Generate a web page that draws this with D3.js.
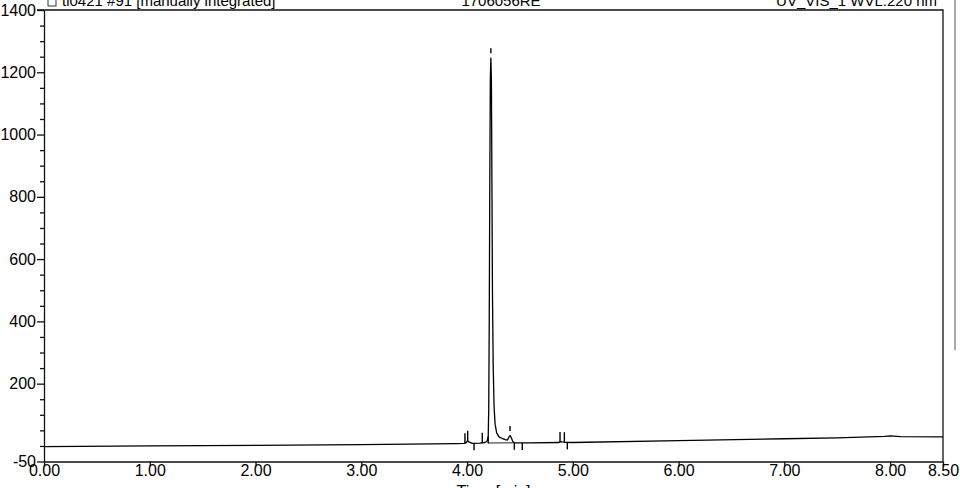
<!DOCTYPE html>
<html>
<head>
<meta charset="utf-8">
<script src="https://cdn.jsdelivr.net/npm/d3@7"></script>
<style>
  body { margin: 0; background: #fff; }
  svg { display: block; font-family: "Liberation Sans", Arial, sans-serif; }
</style>
</head>
<body>
<div id="wrapper"></div>
<script>
// chromatogram trace, time in min, signal in mAU
const times = [0.00, 1.00, 2.00, 3.00, 3.90, 3.97, 3.99, 4.005, 4.02, 4.05, 4.12, 4.17, 4.19,
  4.20, 4.205, 4.21, 4.215, 4.22, 4.225, 4.23, 4.235, 4.24, 4.247, 4.255, 4.265, 4.28, 4.30,
  4.33, 4.36, 4.38, 4.39, 4.40, 4.41, 4.42, 4.435, 4.45, 4.60, 4.87, 4.885, 4.90, 4.93,
  5.00, 6.00, 7.00, 7.50, 7.95, 8.00, 8.10, 8.50]
const signal = [-2.5, 0, 2, 4.5, 7.5, 8, 10, 17, 12, 8.5, 9, 11, 16,
  30, 120, 420, 850, 1180, 1245, 1180, 850, 500, 260, 130, 70, 42, 30,
  24, 20, 19, 24, 31, 33, 25, 13, 9.5, 10, 11, 14, 13, 11.5,
  11, 17, 23, 26, 31, 32.5, 30, 29]

// integration marks
const apexMarks = [4.225, 4.406]
const startMarks = [3.98, 4.006, 4.144, 4.879, 4.92]
const endMarks = [4.066, 4.20, 4.447, 4.522, 4.948]
const intBaseTimes = [4.20, 4.447]
const intBaseValues = [9.5, 10]

// axes
const xTicks = [0, 1, 2, 3, 4, 5, 6, 7, 8, 8.5]
const yTicks = [-50, 200, 400, 600, 800, 1000, 1200, 1400]
const yMinorTicks = [0, 50, 100, 150, 250, 300, 350, 450, 500, 550, 650, 700, 750,
  850, 900, 950, 1050, 1100, 1150, 1250, 1300, 1350]

const headerLeft = "ti0421 #91 [manually integrated]"
const headerMid = "1706056RE"
const headerRight = "UV_VIS_1 WVL:220 nm"
const xLabel = "Time [min]"

function drawChromatogram() {

  const data = times.map((t, i) => ({ t: t, v: signal[i] }))
  const xAccessor = d => d.t
  const yAccessor = d => d.v

  // 1. dimensions
  let dimensions = {
    width: 960,
    height: 488,
    margin: { top: 10, right: 17, bottom: 26.5, left: 44 },
  }
  dimensions.boundedWidth = dimensions.width - dimensions.margin.left - dimensions.margin.right
  dimensions.boundedHeight = dimensions.height - dimensions.margin.top - dimensions.margin.bottom

  // 2. canvas
  const wrapper = d3.select("#wrapper")
    .append("svg")
      .attr("width", dimensions.width)
      .attr("height", dimensions.height)

  const bounds = wrapper.append("g")
    .attr("transform", `translate(${dimensions.margin.left},${dimensions.margin.top})`)

  // 3. scales
  const xScale = d3.scaleLinear()
    .domain([0, 8.5])
    .range([0, dimensions.boundedWidth])

  const yScale = d3.scaleLinear()
    .domain([-50, 1400])
    .range([dimensions.boundedHeight, 0])

  const signalAt = t => {
    const i = d3.bisector(xAccessor).left(data, t)
    if (i <= 0) return data[0].v
    if (i >= data.length) return data[data.length - 1].v
    const a = data[i - 1], b = data[i]
    return a.v + (b.v - a.v) * (t - a.t) / (b.t - a.t)
  }

  // 4. frame (top + right)
  bounds.append("path")
    .attr("d", `M-7,0H${dimensions.boundedWidth}V${dimensions.boundedHeight}`)
    .attr("fill", "none")
    .attr("stroke", "#111")
    .attr("stroke-width", 1.3)

  // 5. trace
  const lineGenerator = d3.line()
    .x(d => xScale(xAccessor(d)))
    .y(d => yScale(yAccessor(d)))

  bounds.append("path")
    .datum(data)
    .attr("d", lineGenerator)
    .attr("fill", "none")
    .attr("stroke", "#000")
    .attr("stroke-width", 1.3)
    .attr("stroke-linejoin", "round")

  // integration baseline under the main peak
  bounds.append("path")
    .datum(intBaseTimes.map((t, i) => ({ t: t, v: intBaseValues[i] })))
    .attr("d", lineGenerator)
    .attr("fill", "none")
    .attr("stroke", "#222")
    .attr("stroke-width", 1)

  // marks
  const marks = bounds.append("g")
    .attr("stroke", "#000")
    .attr("stroke-width", 1.4)

  marks.selectAll(".apex")
    .data(apexMarks)
    .enter().append("line")
      .attr("x1", d => xScale(d))
      .attr("x2", d => xScale(d))
      .attr("y1", d => yScale(signalAt(d)) - 5)
      .attr("y2", d => yScale(signalAt(d)) - 10)

  marks.selectAll(".start")
    .data(startMarks)
    .enter().append("line")
      .attr("x1", d => xScale(d))
      .attr("x2", d => xScale(d))
      .attr("y1", d => yScale(signalAt(d)))
      .attr("y2", d => yScale(signalAt(d)) - 10)

  marks.selectAll(".end")
    .data(endMarks)
    .enter().append("line")
      .attr("x1", d => xScale(d))
      .attr("x2", d => xScale(d))
      .attr("y1", d => yScale(signalAt(d)))
      .attr("y2", d => yScale(signalAt(d)) + 7)

  // 6. axes
  const yAxisGenerator = d3.axisLeft(yScale)
    .tickValues(yTicks)
    .tickSize(7)
    .tickSizeOuter(0)
    .tickPadding(1)
    .tickFormat(d => d)

  const yAxis = bounds.append("g").call(yAxisGenerator)

  const yMinorGenerator = d3.axisLeft(yScale)
    .tickValues(yMinorTicks)
    .tickSize(4)
    .tickSizeOuter(0)
    .tickFormat("")

  bounds.append("g").call(yMinorGenerator)
    .select(".domain").remove()

  const xAxisGenerator = d3.axisBottom(xScale)
    .tickValues(xTicks)
    .tickSize(5)
    .tickSizeOuter(0)
    .tickPadding(-1.5)
    .tickFormat(d3.format(".2f"))

  const xAxis = bounds.append("g")
    .attr("transform", `translate(0,${dimensions.boundedHeight})`)
    .call(xAxisGenerator)

  bounds.selectAll(".domain, .tick line")
    .attr("stroke", "#111")
    .attr("stroke-width", 1.3)

  bounds.selectAll(".tick text")
    .attr("fill", "#000")
    .style("font-size", "16px")

  xAxis.append("text")
    .attr("x", dimensions.boundedWidth / 2)
    .attr("y", 35)
    .attr("fill", "#000")
    .style("font-size", "16px")
    .style("text-anchor", "middle")
    .text(xLabel)

  // 7. header (cut off at top edge)
  const header = wrapper.append("g")
    .style("font-size", "15px")
    .attr("fill", "#000")

  header.append("rect")
    .attr("x", 48).attr("y", -3)
    .attr("width", 8).attr("height", 9)
    .attr("fill", "none").attr("stroke", "#333").attr("stroke-width", 1)

  header.append("text")
    .attr("x", 62).attr("y", 6)
    .text(headerLeft)

  header.append("text")
    .attr("x", 501).attr("y", 6)
    .style("text-anchor", "middle")
    .text(headerMid)

  header.append("text")
    .attr("x", 937).attr("y", 6)
    .style("text-anchor", "end")
    .text(headerRight)

  // scanned page edge
  wrapper.append("line")
    .attr("x1", 955).attr("x2", 955)
    .attr("y1", 0).attr("y2", 350)
    .attr("stroke", "#555")
    .attr("stroke-width", 1)
}

drawChromatogram()
</script>
</body>
</html>
